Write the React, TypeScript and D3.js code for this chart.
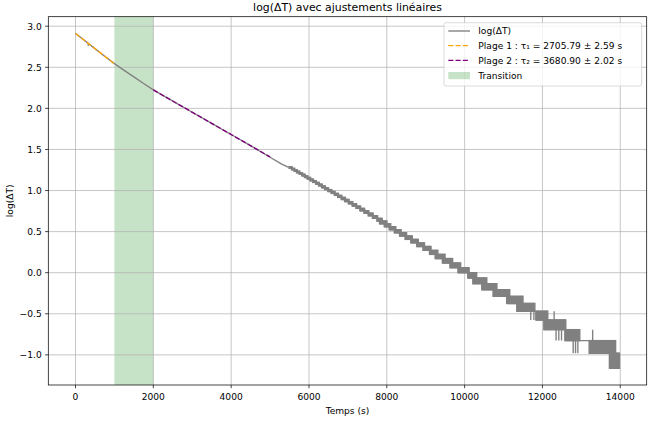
import React from "react";
import * as d3 from "d3";

const W = 656;
const H = 423;
const M = { left: 48.3, right: 646.7, top: 16.7, bottom: 385 };
const FONT = "DejaVu Sans, Liberation Sans, sans-serif";

// Sensor resolution (°C per count)
const RESOLUTION = 0.0625;

// Early, smooth part of the record: time (s) and log(ΔT)
const earlyTime = [0, 250, 320, 330, 340, 500, 750, 1000, 1250, 1500, 1750, 2000, 2500, 3000, 3500, 4000, 4500, 5000, 5300, 5440];
const earlyLogDT = [2.912, 2.82, 2.794, 2.768, 2.786, 2.727, 2.635, 2.545, 2.463, 2.383, 2.303, 2.225, 2.089, 1.953, 1.817, 1.682, 1.546, 1.405, 1.322, 1.29];

// Quantized part: ΔT counts and the time span over which each reading occurs
const levelCounts = [58, 57, 56, 55, 54, 53, 52, 51, 50, 49, 48, 47, 46, 45, 44, 43, 42, 41, 40, 39, 38, 37, 36, 35, 34, 33, 32, 31, 30, 29, 28, 27, 26, 25, 24, 23, 22, 21, 20, 19, 18, 17, 16, 15, 14, 13, 12, 11, 10, 9, 8, 7, 6, 5];
const levelFirstTime = [5427, 5489, 5551, 5615, 5679, 5746, 5813, 5882, 5952, 6023, 6096, 6170, 6246, 6323, 6402, 6483, 6566, 6651, 6737, 6826, 6917, 7011, 7107, 7206, 7307, 7411, 7519, 7630, 7744, 7812, 7934, 8061, 8192, 8328, 8469, 8616, 8769, 8929, 9097, 9242, 9427, 9622, 9828, 10080, 10210, 10440, 10730, 11080, 11340, 11829, 12035, 12575, 13200, 13720];
const levelLastTime = [5571, 5635, 5699, 5766, 5833, 5902, 5972, 6043, 6116, 6190, 6266, 6343, 6422, 6503, 6586, 6671, 6757, 6846, 6937, 7031, 7127, 7226, 7327, 7431, 7539, 7650, 7764, 7882, 8004, 8101, 8232, 8368, 8509, 8656, 8809, 8969, 9137, 9312, 9497, 9692, 9898, 10116, 10310, 10570, 10830, 11160, 11500, 11805, 12137, 12600, 12960, 13880, 13980, 13980];

// Isolated excursions (time, from count, to count)
const spikeTime = [11700, 11780, 12300, 12350, 12420, 12490, 12790, 12850, 12910, 13290];
const spikeFrom = [10, 10, 9, 8, 8, 8, 7, 7, 7, 7];
const spikeTo = [9, 9, 10, 7, 7, 7, 6, 6, 6, 8];

// Linear fits
const fitStart = [0, 2000];
const fitEnd = [1000, 5000];
const fitTau = [2705.79, 3680.9];
const fitIntercept = [2.912, 2.768];
const fitColors = ["orange", "purple"];

const transitionRange = [1000, 2000];

const legendLabels = [
  "log(ΔT)",
  "Plage 1 : τ₁ = 2705.79 ± 2.59 s",
  "Plage 2 : τ₂ = 3680.90 ± 2.02 s",
  "Transition",
];

const xTicks = [0, 2000, 4000, 6000, 8000, 10000, 12000, 14000];
const yTicks = [-1.0, -0.5, 0.0, 0.5, 1.0, 1.5, 2.0, 2.5, 3.0];

const GRAY = "#808080";
const LW = 1.37;

function fmtY(v: number) {
  const s = Math.abs(v).toFixed(1);
  return v < 0 ? "\u2212" + s : s;
}

export default function App() {
  const levelLog = levelCounts.map((c) => Math.log(c * RESOLUTION));
  const allT = [...earlyTime, ...levelFirstTime, ...levelLastTime];
  const allY = [...earlyLogDT, ...levelLog];
  const tMin = d3.min(allT)!;
  const tMax = d3.max(allT)!;
  const yMin = d3.min(allY)!;
  const yMax = d3.max(allY)!;
  const tr = tMax - tMin;
  const yr = yMax - yMin;

  const x = d3.scaleLinear().domain([tMin - 0.05 * tr, tMax + 0.05 * tr]).range([M.left, M.right]);
  const y = d3.scaleLinear().domain([yMin - 0.05 * yr, yMax + 0.05 * yr]).range([M.bottom, M.top]);

  const line = d3
    .line<[number, number]>()
    .x((d) => x(d[0]))
    .y((d) => y(d[1]));

  const earlyPts: [number, number][] = earlyTime.map((t, i) => [t, earlyLogDT[i]]);

  // blocks where two adjacent levels alternate
  const blocks: { x0: number; x1: number; y0: number; y1: number }[] = [];
  for (let i = 0; i < levelCounts.length - 1; i++) {
    const t0 = levelFirstTime[i + 1];
    const t1 = levelLastTime[i];
    if (t1 > t0) {
      blocks.push({ x0: x(t0), x1: x(t1), y0: y(levelLog[i]), y1: y(levelLog[i + 1]) });
    }
  }

  const legendX = 444;
  const legendY = 22.7;
  const legendW = 197.7;
  const legendH = 63.3;
  const rowY = [31, 45.6, 60.4, 75.6];
  const hx0 = 448.3;
  const hx1 = 470;
  const tx = 478.3;

  return (
    <svg
      width={W}
      height={H}
      style={{ position: "absolute", left: 0, top: 0, background: "#fff" }}
      fontFamily={FONT}
    >
      <rect x={0} y={0} width={W} height={H} fill="#fff" />
      <defs>
        <clipPath id="plotclip">
          <rect x={M.left} y={M.top} width={M.right - M.left} height={M.bottom - M.top} />
        </clipPath>
      </defs>

      {/* transition span */}
      <rect
        x={x(transitionRange[0])}
        y={M.top}
        width={x(transitionRange[1]) - x(transitionRange[0])}
        height={M.bottom - M.top}
        fill="green"
        fillOpacity={0.22}
      />

      {/* grid */}
      {xTicks.map((t) => (
        <line key={"gx" + t} x1={x(t)} x2={x(t)} y1={M.top} y2={M.bottom} stroke="#b0b0b0" strokeWidth={0.73} />
      ))}
      {yTicks.map((v) => (
        <line key={"gy" + v} x1={M.left} x2={M.right} y1={y(v)} y2={y(v)} stroke="#b0b0b0" strokeWidth={0.73} />
      ))}

      <g clipPath="url(#plotclip)">
        {/* early data */}
        <path d={line(earlyPts)!} fill="none" stroke={GRAY} strokeWidth={LW} strokeLinejoin="round" />
        {/* quantized blocks */}
        {blocks.map((b, i) => (
          <rect
            key={"b" + i}
            x={b.x0}
            y={Math.min(b.y0, b.y1)}
            width={b.x1 - b.x0}
            height={Math.abs(b.y1 - b.y0)}
            fill={GRAY}
            stroke={GRAY}
            strokeWidth={LW}
          />
        ))}
        {levelCounts.map((c, i) => (
          <line
            key={"l" + c}
            x1={x(levelFirstTime[i])}
            x2={x(levelLastTime[i])}
            y1={y(levelLog[i])}
            y2={y(levelLog[i])}
            stroke={GRAY}
            strokeWidth={LW}
          />
        ))}
        {spikeTime.map((t, i) => (
          <line
            key={"s" + i}
            x1={x(t)}
            x2={x(t)}
            y1={y(Math.log(spikeFrom[i] * RESOLUTION))}
            y2={y(Math.log(spikeTo[i] * RESOLUTION))}
            stroke={GRAY}
            strokeWidth={LW}
          />
        ))}
        {/* fits */}
        {fitStart.map((t0, i) => {
          const t1 = fitEnd[i];
          const pts: [number, number][] = [
            [t0, fitIntercept[i] - t0 / fitTau[i]],
            [t1, fitIntercept[i] - t1 / fitTau[i]],
          ];
          return (
            <path
              key={"f" + i}
              d={line(pts)!}
              fill="none"
              stroke={fitColors[i]}
              strokeWidth={LW}
              strokeDasharray="5.06 2.19"
            />
          );
        })}
      </g>

      {/* spines */}
      <rect
        x={M.left}
        y={M.top}
        width={M.right - M.left}
        height={M.bottom - M.top}
        fill="none"
        stroke="#000"
        strokeWidth={0.73}
      />

      {/* x ticks */}
      {xTicks.map((t) => (
        <g key={"xt" + t}>
          <line x1={x(t)} x2={x(t)} y1={M.bottom} y2={M.bottom + 3.2} stroke="#000" strokeWidth={0.73} />
          <text x={x(t)} y={400} fontSize={9.1} textAnchor="middle" fill="#000">
            {String(t)}
          </text>
        </g>
      ))}
      {/* y ticks */}
      {yTicks.map((v) => (
        <g key={"yt" + v}>
          <line x1={M.left - 3.2} x2={M.left} y1={y(v)} y2={y(v)} stroke="#000" strokeWidth={0.73} />
          <text x={M.left - 6.6} y={y(v) + 3.3} fontSize={9.1} textAnchor="end" fill="#000">
            {fmtY(v)}
          </text>
        </g>
      ))}

      {/* labels */}
      <text x={(M.left + M.right) / 2} y={413.5} fontSize={9.1} textAnchor="middle" fill="#000">
        Temps (s)
      </text>
      <text
        transform={`translate(13.2,${(M.top + M.bottom) / 2}) rotate(-90)`}
        fontSize={9.1}
        textAnchor="middle"
        fill="#000"
      >
        log(ΔT)
      </text>
      <text x={(M.left + M.right) / 2} y={11.3} fontSize={10.9} textAnchor="middle" fill="#000">
        log(ΔT) avec ajustements linéaires
      </text>

      {/* legend */}
      <rect
        x={legendX}
        y={legendY}
        width={legendW}
        height={legendH}
        rx={2}
        ry={2}
        fill="#fff"
        fillOpacity={0.8}
        stroke="#cccccc"
        strokeOpacity={0.8}
        strokeWidth={0.91}
      />
      <line x1={hx0} x2={hx1} y1={rowY[0]} y2={rowY[0]} stroke={GRAY} strokeWidth={LW} />
      <line x1={hx0} x2={hx1} y1={rowY[1]} y2={rowY[1]} stroke={fitColors[0]} strokeWidth={LW} strokeDasharray="5.06 2.19" />
      <line x1={hx0} x2={hx1} y1={rowY[2]} y2={rowY[2]} stroke={fitColors[1]} strokeWidth={LW} strokeDasharray="5.06 2.19" />
      <rect x={hx0} y={rowY[3] - 3.6} width={hx1 - hx0} height={7.2} fill="green" fillOpacity={0.22} />
      {legendLabels.map((l, i) => (
        <text key={"lg" + i} x={tx} y={rowY[i] + 3.3} fontSize={9.1} fill="#000">
          {l}
        </text>
      ))}
    </svg>
  );
}
